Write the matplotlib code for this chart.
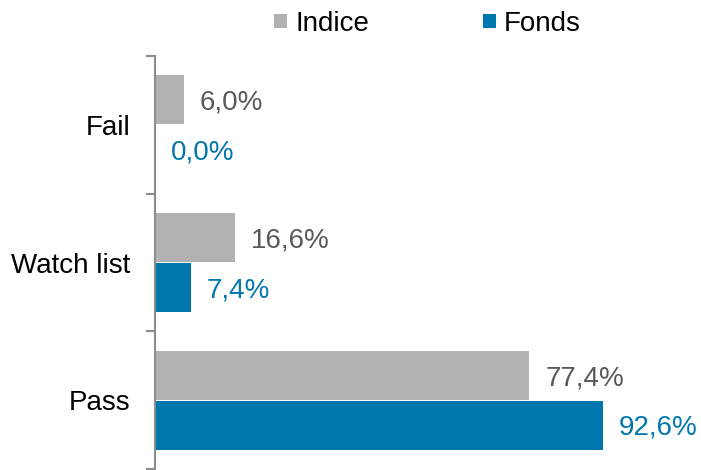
import matplotlib.pyplot as plt
import numpy as np

plt.rcParams['font.family'] = ['Liberation Sans', 'DejaVu Sans']

categories = ["Fail", "Watch list", "Pass"]
indice = [6.0, 16.6, 77.4]
fonds = [0.0, 7.4, 92.6]

gray = '#B2B2B3'
blue = '#0077AD'
text_gray = '#595959'

fig = plt.figure(figsize=(7.01, 4.70), dpi=100)
ax = fig.add_axes([155 / 701, 1 / 470, 546 / 701, 413 / 470])

y = np.arange(len(categories))
h = 0.355
off = 0.181
ax.barh(y - off, indice, height=h, color=gray, label="Indice")
ax.barh(y + off, fonds, height=h, color=blue, label="Fonds")

def fmt(v):
    return f"{v:.1f}".replace(".", ",") + "%"

for yi, v in zip(y, indice):
    ax.annotate(fmt(v), (v, yi - off), xytext=(11.5, -2), textcoords='offset points',
                va='center', ha='left', fontsize=20, color=text_gray)
for yi, v in zip(y, fonds):
    ax.annotate(fmt(v), (v, yi + off), xytext=(11.5, -2), textcoords='offset points',
                va='center', ha='left', fontsize=20, color=blue)

ax.set_xlim(0, 546 / 4.838)
ax.set_ylim(2.5, -0.5)
ax.set_yticks(y)
ax.set_yticklabels(categories, fontsize=20)
ax.tick_params(axis='y', which='major', length=0, pad=18)
ax.set_yticks([-0.5, 0.5, 1.5, 2.5], minor=True)
ax.tick_params(axis='y', which='minor', length=6.5, width=1.5, color='#8C8C8C', direction='out')
ax.set_xticks([])
for s in ['top', 'right', 'bottom']:
    ax.spines[s].set_visible(False)
ax.spines['left'].set_color('#8C8C8C')
ax.spines['left'].set_linewidth(1.5)

fig.legend(loc='upper center', bbox_to_anchor=(0.61, 1.03), ncol=2, frameon=False,
           fontsize=20, handlelength=0.45, handleheight=0.45, handletextpad=0.3,
           columnspacing=4.1)

fig.savefig("out.png", dpi=100)
